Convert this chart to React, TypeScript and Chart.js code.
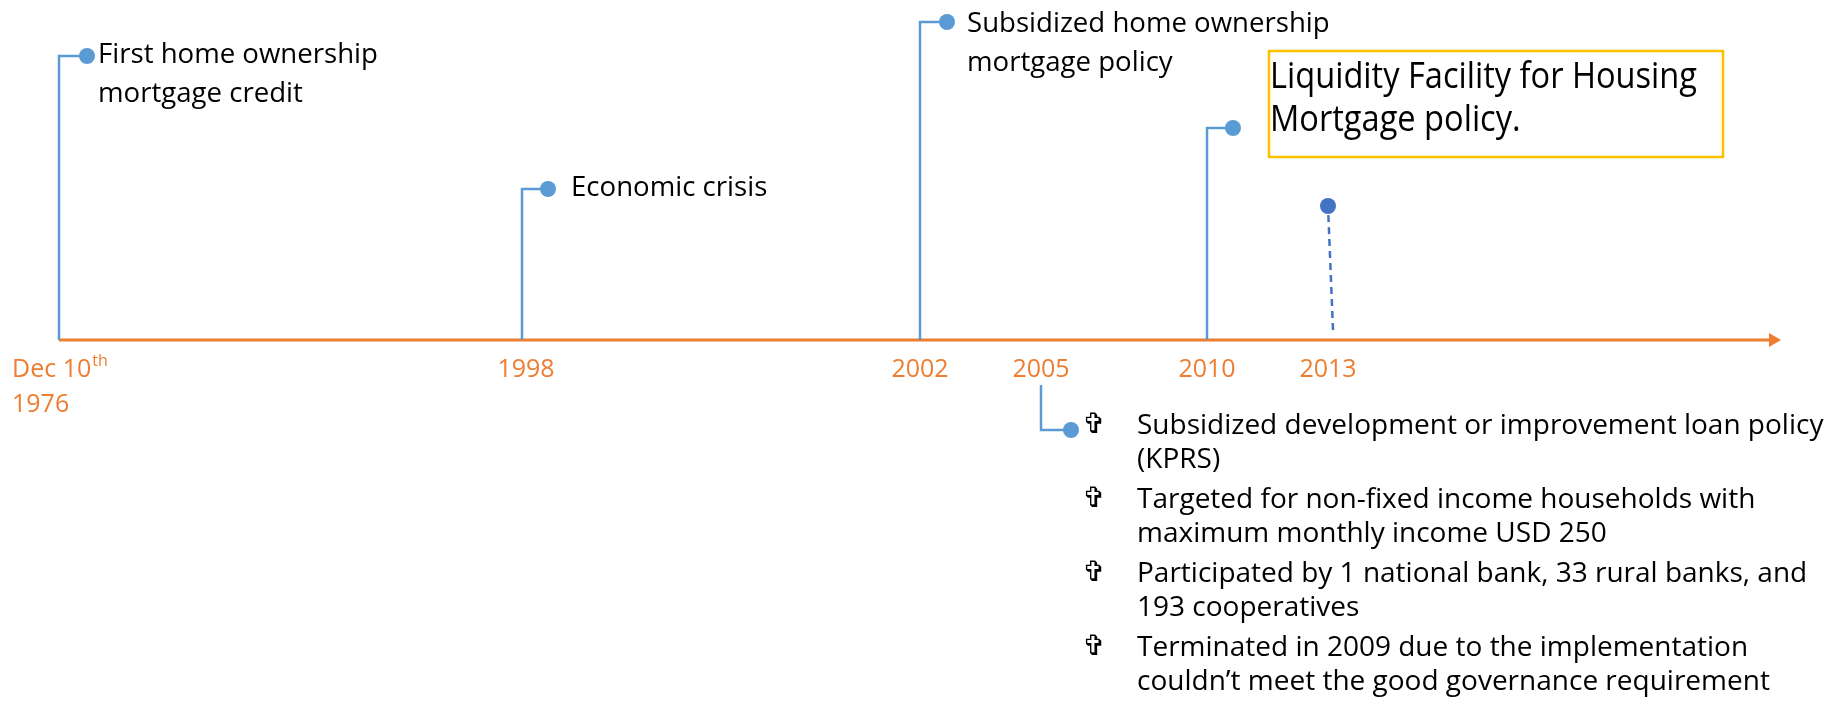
import { useEffect, useRef } from "react";
import { Chart, registerables } from "chart.js";

Chart.register(...registerables);

// ---------- data ----------
const tickLabels: string[][] = [["Dec 10^th", "1976"], ["1998"], ["2002"], ["2005"], ["2010"], ["2013"]];
// position of each event along the (non-proportional) timeline, in timeline units
const timelinePos = [59, 522, 920, 1041, 1207, 1328];
// height of each event marker above (+) or below (-) the timeline
const markerHeight = [284, 151, 318, -90, 212, 134];
// where each stem starts (0 = on the timeline)
const stemStart = [0, 0, 0, -45, 0, 10];
const eventTitles: string[][] = [
  ["First home ownership", "mortgage credit"],
  ["Economic crisis"],
  ["Subsidized home ownership", "mortgage policy"],
  [],
  [],
  [],
];
const policy2010 = ["Liquidity Facility for Housing", "Mortgage policy."];
const kprsBullets: string[][] = [
  ["Subsidized development or improvement loan policy", "(KPRS)"],
  ["Targeted for non-fixed income households with", "maximum monthly income USD 250"],
  ["Participated by 1 national bank, 33 rural banks, and", "193 cooperatives"],
  ["Terminated in 2009 due to the implementation", "couldn\u2019t meet the good governance requirement"],
];

// ---------- layout / style ----------
const W = 1838;
const H = 707;
const BLUE = "#5B9BD5";
const DARK_BLUE = "#4472C4";
const ORANGE = "#ED7D31";
const GOLD = "#FFC000";
const FONT = '"Open Sans", "Noto Sans", sans-serif';
const axisEnd = 1773;
const elbowLen = [28, 26, 27, 30, 26, 0];
const labelDx = [11, 23, 20];
const labelDy = [7, 7, 10];
const labelLineGap = 39;
const dashLean = 5;
const boxRect = { x1: 1269, x2: 1723, y1: 289, y2: 183 };
const boxTextWidth = 427;

const timelinePlugin = {
  id: "timelineText",
  afterDatasetsDraw(chart: any) {
    const ctx: CanvasRenderingContext2D = chart.ctx;
    const xs = chart.scales.x;
    const ys = chart.scales.y;
    const px = (v: number) => xs.getPixelForValue(v);
    const py = (v: number) => ys.getPixelForValue(v);
    const axisY = py(0);
    ctx.save();
    ctx.textBaseline = "alphabetic";

    // tick labels
    ctx.fillStyle = ORANGE;
    tickLabels.forEach((lines, i) => {
      lines.forEach((line, li) => {
        const baseY = axisY + 37 + li * 35;
        ctx.font = `25px ${FONT}`;
        if (line.includes("^")) {
          const [main, sup] = line.split("^");
          ctx.textAlign = "left";
          const left = i === 0 ? 12 : px(timelinePos[i]);
          ctx.fillText(main, left, baseY);
          const w = ctx.measureText(main).width;
          ctx.font = `16px ${FONT}`;
          ctx.fillText(sup, left + w + 1, baseY - 11);
        } else if (i === 0) {
          ctx.textAlign = "left";
          ctx.fillText(line, 12, baseY);
        } else {
          ctx.textAlign = "center";
          ctx.fillText(line, px(timelinePos[i]) + (i === 1 ? 4 : 0), baseY);
        }
      });
    });

    // event titles
    ctx.fillStyle = "#000";
    ctx.textAlign = "left";
    ctx.font = `27.6px ${FONT}`;
    eventTitles.forEach((lines, i) => {
      if (!lines.length) return;
      const dotX = px(timelinePos[i] + elbowLen[i]);
      const dotY = py(markerHeight[i]);
      lines.forEach((line, li) => {
        ctx.fillText(line, dotX + labelDx[i], dotY + labelDy[i] + li * labelLineGap);
      });
    });

    // 2010 policy box
    const bx1 = px(boxRect.x1), bx2 = px(boxRect.x2), by1 = py(boxRect.y1), by2 = py(boxRect.y2);
    ctx.strokeStyle = GOLD;
    ctx.lineWidth = 2.5;
    ctx.strokeRect(bx1, by1, bx2 - bx1, by2 - by1);
    ctx.fillStyle = "#000";
    ctx.font = `36px ${FONT}`;
    const sx = Math.min(1, boxTextWidth / ctx.measureText(policy2010[0]).width);
    policy2010.forEach((line, li) => {
      ctx.save();
      ctx.translate(bx1 + 1, by1 + 37 + li * 43);
      ctx.scale(sx, 1);
      ctx.fillText(line, 0, 0);
      ctx.restore();
    });

    // 2005 bullets
    const dot5X = px(timelinePos[3] + elbowLen[3]);
    const dot5Y = py(markerHeight[3]);
    let baseY = dot5Y + 4;
    kprsBullets.forEach((item) => {
      ctx.font = `bold 28px "DejaVu Sans", sans-serif`;
      ctx.textAlign = "center";
      ctx.fillText("\u271E", dot5X + 23, baseY - 1);
      ctx.font = `28px ${FONT}`;
      ctx.textAlign = "left";
      item.forEach((line, li) => {
        ctx.fillText(line, dot5X + 66, baseY + li * 34, 688);
      });
      baseY += 74;
    });

    ctx.restore();
  },
};

export default function App() {
  const canvasRef = useRef<HTMLCanvasElement | null>(null);

  useEffect(() => {
    let chart: Chart | null = null;
    let cancelled = false;
    const build = () => {
      if (cancelled || !canvasRef.current) return;
      const stemSets = [0, 1, 2, 3, 4].map((i) => ({
        data: [
          { x: timelinePos[i], y: stemStart[i] },
          { x: timelinePos[i], y: markerHeight[i] },
          { x: timelinePos[i] + elbowLen[i], y: markerHeight[i] },
        ],
        showLine: true,
        borderColor: BLUE,
        borderWidth: 2.5,
        borderJoinStyle: "miter" as const,
        pointRadius: [0, 0, 8],
        pointHoverRadius: [0, 0, 8],
        pointBackgroundColor: BLUE,
        pointBorderWidth: 0,
        order: 1,
      }));
      const dashed = {
        data: [
          { x: timelinePos[5] + dashLean, y: stemStart[5] },
          { x: timelinePos[5], y: markerHeight[5] },
        ],
        showLine: true,
        borderColor: DARK_BLUE,
        borderWidth: 2.5,
        borderDash: [7, 5],
        pointRadius: [0, 8],
        pointHoverRadius: [0, 8],
        pointBackgroundColor: DARK_BLUE,
        pointBorderWidth: 0,
        order: 1,
      };
      const axis = {
        data: [
          { x: timelinePos[0], y: 0 },
          { x: axisEnd, y: 0 },
        ],
        showLine: true,
        borderColor: ORANGE,
        borderWidth: 3,
        pointRadius: [0, 8],
        pointHoverRadius: [0, 8],
        pointStyle: "triangle" as const,
        pointRotation: 90,
        pointBackgroundColor: ORANGE,
        pointBorderColor: ORANGE,
        pointBorderWidth: 0,
        order: 2,
      };
      chart = new Chart(canvasRef.current, {
        type: "scatter",
        data: { datasets: [axis, ...stemSets, dashed] as any },
        options: {
          animation: false,
          responsive: false,
          devicePixelRatio: 1,
          events: [],
          layout: { padding: 0, autoPadding: false },
          plugins: { legend: { display: false }, tooltip: { enabled: false } },
          scales: {
            x: { type: "linear", min: 0, max: W, display: false },
            y: { type: "linear", min: -367, max: 340, display: false },
          },
        },
        plugins: [timelinePlugin],
      });
    };
    const fontsReady = (document as any).fonts
      ? Promise.all([
          (document as any).fonts.load(`27px "Open Sans"`),
          (document as any).fonts.load(`bold 28px "DejaVu Sans"`),
        ]).catch(() => null)
      : Promise.resolve(null);
    fontsReady.then(build);
    return () => {
      cancelled = true;
      if (chart) chart.destroy();
    };
  }, []);

  return (
    <div style={{ position: "fixed", left: 0, top: 0, width: W, height: H, background: "#fff" }}>
      <canvas ref={canvasRef} width={W} height={H} style={{ display: "block", width: W, height: H }} />
    </div>
  );
}
